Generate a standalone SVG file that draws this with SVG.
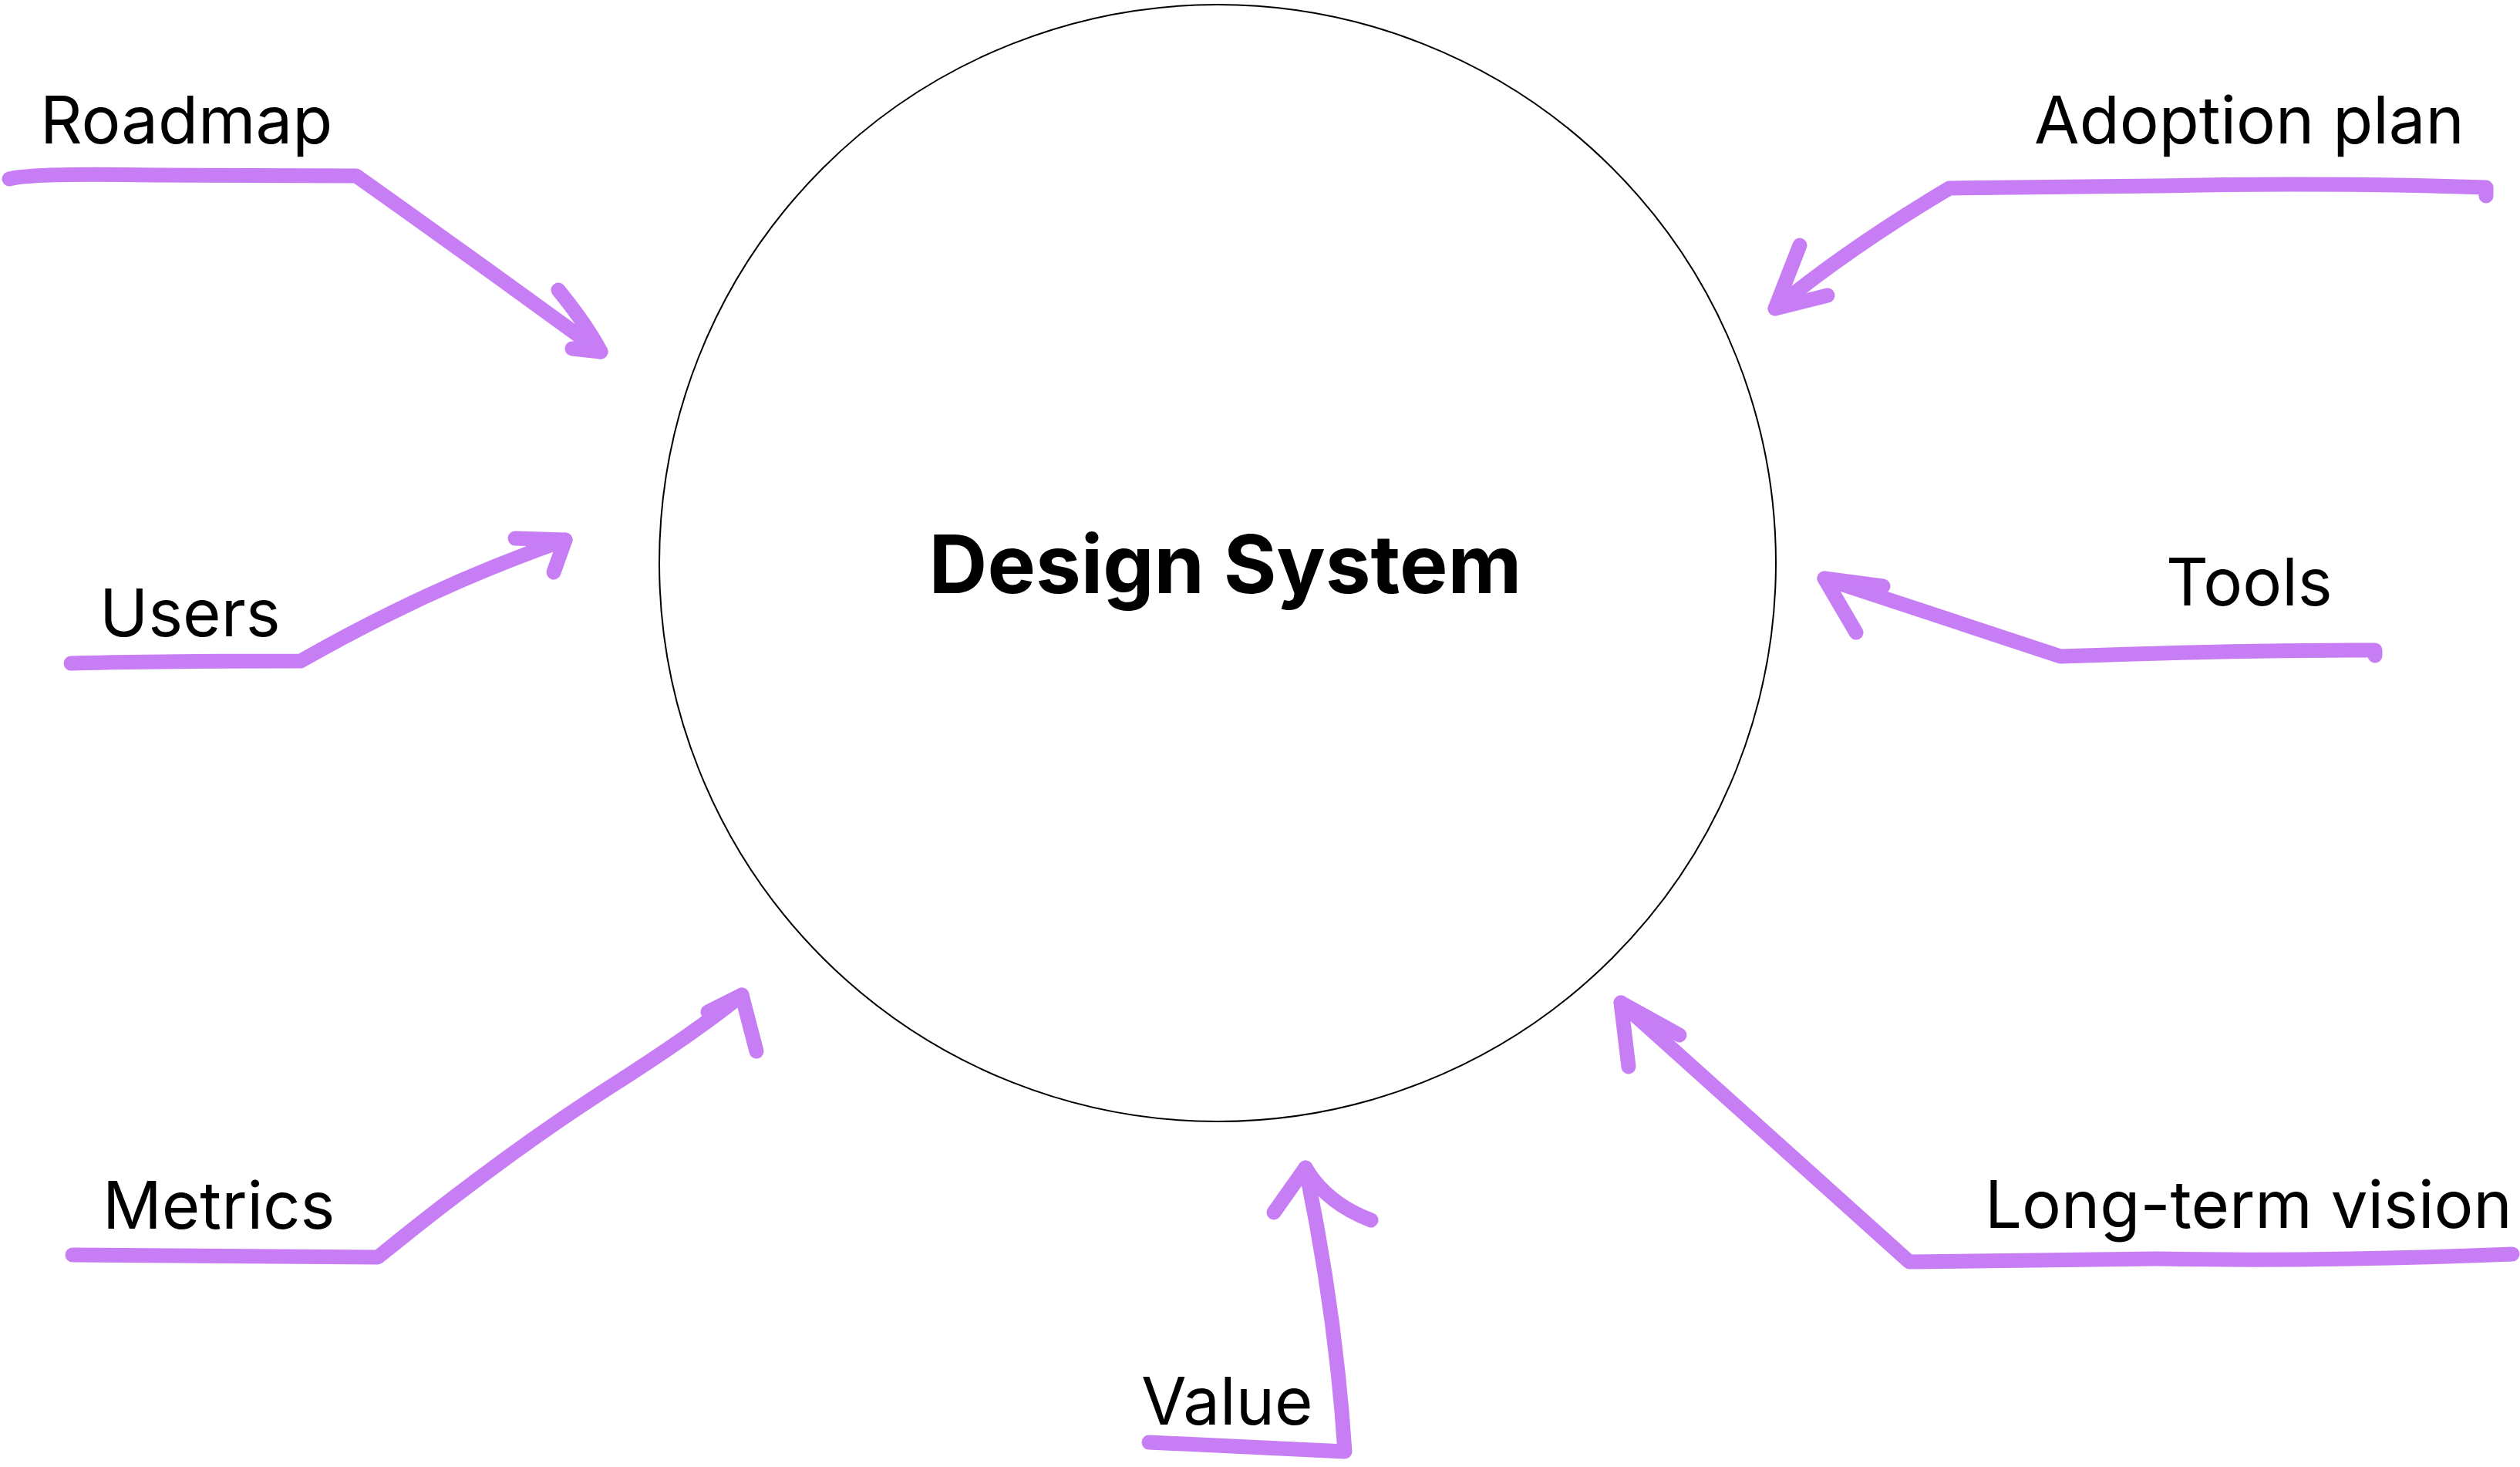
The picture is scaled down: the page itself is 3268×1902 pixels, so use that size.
<svg xmlns="http://www.w3.org/2000/svg" width="3268" height="1902" viewBox="0 0 3268 1902">
<style>
.lbl{font-family:Inter,"Liberation Sans",sans-serif;font-size:85px;fill:#000}
.title{font-family:Inter,"Liberation Sans",sans-serif;font-size:105px;font-weight:700;fill:#000}
.arr{fill:none;stroke:#c77ef4;stroke-width:19;stroke-linecap:round;stroke-linejoin:round}
</style>
<rect width="3268" height="1902" fill="#fff"/>
<g id="design-system">
<circle cx="1579" cy="730" r="724" fill="#fff" stroke="#000" stroke-width="2"/>
<text class="title" x="1589" y="769" text-anchor="middle">Design System</text>
</g>
<g id="roadmap"><text class="lbl" x="52" y="186">Roadmap</text></g>
<g id="adoption-plan"><text class="lbl" x="2638" y="186">Adoption plan</text></g>
<g id="users"><text class="lbl" x="129" y="825">Users</text></g>
<g id="tools"><text class="lbl" x="2809" y="785">Tools</text></g>
<g id="metrics"><text class="lbl" x="133" y="1593">Metrics</text></g>
<g id="long-term-vision"><text class="lbl" x="2574" y="1592">Long-term vision</text></g>
<g id="value"><text class="lbl" x="1480" y="1847">Value</text></g>
<g id="connectors">
<path class="arr" d="M12 232 Q40 224 200 227 L462 228 Q620 340 779 456"/>
<path class="arr" d="M724 376 Q760 420 779 456 L742 452"/>
<path class="arr" d="M3224 254 L3224 243 Q3000 236 2800 241 L2528 244 Q2400 320 2302 400"/>
<path class="arr" d="M2334 318 L2302 400 L2370 383"/>
<path class="arr" d="M92 860 Q200 857 390 857 Q560 760 733 700"/>
<path class="arr" d="M668 698 L733 700 L718 742"/>
<path class="arr" d="M3080 850 L3080 843 Q2900 843 2672 851 L2366 750"/>
<path class="arr" d="M2442 760 L2366 750 L2407 820"/>
<path class="arr" d="M94 1627 L490 1630 Q650 1500 790 1410 Q900 1340 962 1290"/>
<path class="arr" d="M918 1312 L962 1290 L981 1363"/>
<path class="arr" d="M3258 1626 Q3000 1636 2800 1632 L2476 1636 Q2280 1460 2102 1300"/>
<path class="arr" d="M2178 1342 L2102 1300 L2112 1383"/>
<path class="arr" d="M1490 1870 Q1600 1875 1744 1882 Q1732 1700 1693 1514"/>
<path class="arr" d="M1652 1572 L1693 1514 Q1720 1560 1778 1582"/>
</g>
</svg>
